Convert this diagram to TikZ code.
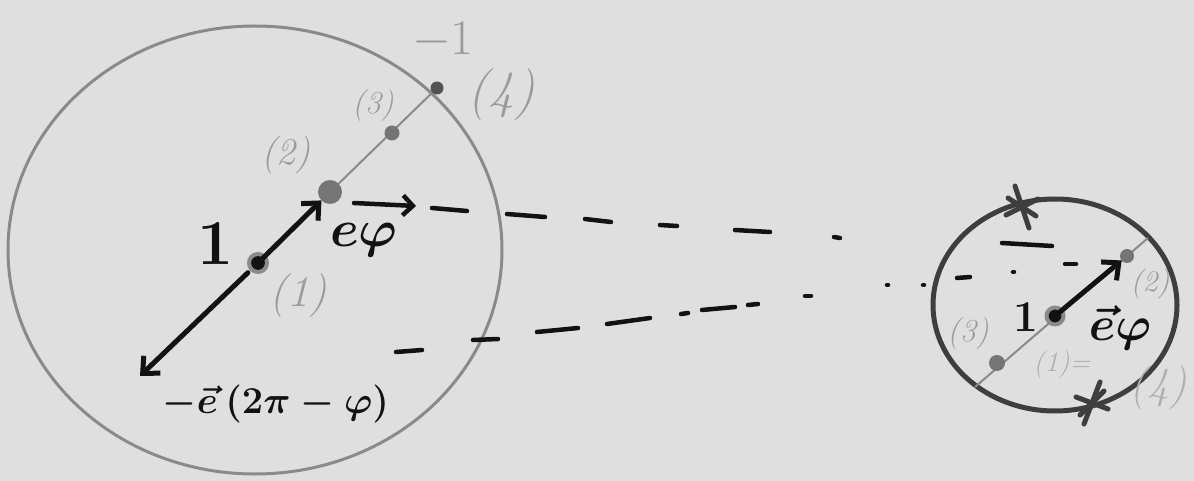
\documentclass[tikz,border=0pt]{standalone}
\usepackage{fix-cm}
\usetikzlibrary{arrows.meta,shapes.geometric}
\definecolor{paper}{RGB}{223,223,223}
\definecolor{pencil}{RGB}{138,138,138}
\definecolor{lightpen}{RGB}{155,155,155}
\definecolor{paleink}{RGB}{175,175,175}
\definecolor{ink}{RGB}{18,18,18}
\definecolor{darkring}{RGB}{62,62,62}
\begin{document}
\begin{tikzpicture}[x=1pt,y=-1pt,
  bigring/.style={draw=pencil,line width=3pt,ellipse,inner sep=0pt,outer sep=0pt},
  smallring/.style={draw=darkring,line width=5pt,ellipse,inner sep=0pt,outer sep=0pt},
  graypath/.style={draw=pencil,line width=2pt},
  inkarrow/.style={draw=ink,line width=5pt,line cap=round,-{Straight Barb[length=13pt,width=24pt]}},
  inkdash/.style={draw=ink,line width=4.5pt,line cap=round},
  asterisk/.style={draw=darkring,line width=5pt,line cap=round},
  graydot/.style={circle,fill=pencil!85!black,inner sep=0pt,outer sep=0pt,minimum size=#1},
  inkdot/.style={circle,fill=ink,draw=pencil,line width=4pt,inner sep=0pt,outer sep=0pt,minimum size=#1},
  graylabel/.style={text=lightpen,inner sep=0pt,font=\itshape\fontsize{#1}{#1}\selectfont},
  palelabel/.style={text=paleink,inner sep=0pt,font=\itshape\fontsize{#1}{#1}\selectfont},
  inklabel/.style={text=ink,inner sep=0pt,font=\bfseries\boldmath\fontsize{#1}{#1}\selectfont}]
\fill[paper] (0,0) rectangle (1194,481);
\useasboundingbox (0,0) rectangle (1194,481);

% ---------- big circle ----------
\node[bigring,minimum width=494pt,minimum height=448pt] (bigc) at (255,250) {};
\coordinate (c1) at (258,263);
\coordinate (c2) at (330,192);
\coordinate (c3) at (392,133);
\coordinate (c4) at (437,88);
\draw[graypath] (c2) -- (c4);
\node[graydot=24pt] (p2) at (c2) {};
\node[graydot=15pt] (p3) at (c3) {};
\node[graydot=13pt,fill=pencil!60!black] (p4) at (c4) {};
\node[inkdot=18pt] (p1) at (c1) {};

\coordinate (m2) at (140,376);
\draw[inkarrow] (p1.center) -- (p2);
\draw[inkarrow,shorten <=14pt] (p1.center) -- (m2);
\coordinate (v1) at (354,203);
\coordinate (v2) at (416,206);
\draw[inkarrow,line width=4.5pt,-{Straight Barb[length=10pt,width=20pt]}] (v1) -- (v2);

\node[inklabel=64] (one) at (216,244) {1};
\node[inklabel=52] (evarphi) at (364,240) {$e\varphi$};
\node[inklabel=38] (minuse) at (276,404) {$-\vec e\,(2\pi-\varphi)$};
\node[graylabel=44] (l1) at (298,296) {(1)};
\node[graylabel=38] (l2) at (286,155) {(2)};
\node[graylabel=32] (l3) at (373,106) {(3)};
\node[graylabel=50] (lm1) at (443,40) {$-1$};
\node[graylabel=52] (l4) at (501,95) {(4)};

% ---------- dashed guide lines ----------
\foreach \a/\b in {{432,208}/{467,211},{507,214}/{545,217},{585,219}/{611,222},
                   {660,225}/{677,226},{735,230}/{770,232},{834,237}/{840,238},
                   {396,352}/{422,350},{473,340}/{498,339},{537,332}/{578,328},
                   {607,324}/{650,318},{681,314}/{688,313},{702,310}/{735,307},
                   {748,305}/{758,304},{805,296}/{811,296},{887,285}/{888,285},
                   {1002,243}/{1052,246},{1065,264}/{1076,264},{1013,272}/{1014,272},
                   {957,278}/{970,277},{923,285}/{924,285}}
  \draw[inkdash] (\a) -- (\b);

% ---------- small circle ----------
\node[smallring,minimum width=244pt,minimum height=212pt] (smallc) at (1055,305) {};
\coordinate (d0) at (975,387);
\coordinate (d1) at (1055,316);
\coordinate (d2) at (1127,256);
\coordinate (d3) at (997,363);
\coordinate (d4) at (1148,238);
\draw[graypath] (d0) -- (d4);
\node[graydot=14pt] (q2) at (d2) {};
\node[graydot=16pt] (q3) at (d3) {};
\node[inkdot=17pt] (q1) at (d1) {};
\draw[inkarrow] (q1.center) -- (q2);

\coordinate (xa) at (1022,207);
\coordinate (xb) at (1092,403);
\draw[asterisk] (xa) ++(-7,-21) -- ++(14,42);
\draw[asterisk] (xa) ++(-16,8) -- ++(32,-16);
\draw[asterisk] (xa) ++(-14,-9) -- ++(28,18);
\draw[asterisk] (xb) ++(8,-21) -- ++(-16,42);
\draw[asterisk] (xb) ++(-16,-6) -- ++(32,12);
\draw[asterisk] (xb) ++(-12,12) -- ++(24,-24);

\node[inklabel=44] (one2) at (1026,317) {1};
\node[inklabel=48] (evec) at (1120,328) {$\vec e\varphi$};
\node[graylabel=32] (r3) at (968,334) {(3)};
\node[graylabel=30] (r2) at (1150,284) {(2)};
\node[palelabel=28] (r1) at (1062,365) {(1)=};
\node[palelabel=44] (r4) at (1158,388) {(4)};
\end{tikzpicture}
\end{document}
